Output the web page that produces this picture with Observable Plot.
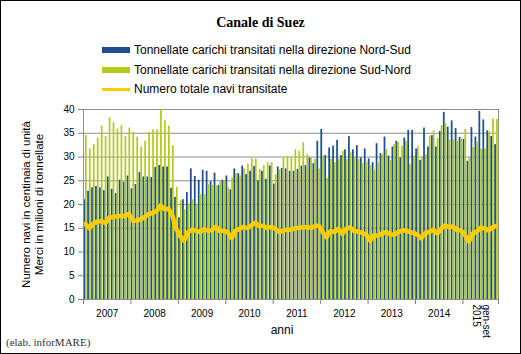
<!DOCTYPE html>
<html><head><meta charset="utf-8">
<script src="https://cdn.jsdelivr.net/npm/d3@7"></script>
<script src="https://cdn.jsdelivr.net/npm/@observablehq/plot@0.6"></script>
<style>
body{margin:0;background:#fff;}
#chart{position:relative;width:521px;height:354px;box-sizing:border-box;border:1px solid #000;background:#fff;overflow:hidden;font-family:"Liberation Sans",Arial,sans-serif;color:#000;}
#title{position:absolute;left:0;width:519px;top:14px;line-height:16px;text-align:center;font:bold 14px "Liberation Serif","Times New Roman",serif;}
.leg{position:absolute;left:101px;font-size:12px;height:14px;line-height:14px;display:flex;align-items:center;white-space:nowrap;}
.sw{width:28px;margin-right:4px;}
#caption{position:absolute;left:5px;top:335px;line-height:13px;font:11px "Liberation Serif","Times New Roman",serif;color:#333;}
#plot{position:absolute;left:0;top:99px;}
</style></head>
<body>
<div id="chart">
  <div id="title">Canale di Suez</div>
  <div class="leg" style="top:42px"><span class="sw" style="height:6px;background:#1d4f8f"></span>Tonnellate carichi transitati nella direzione Nord-Sud</div>
  <div class="leg" style="top:62px"><span class="sw" style="height:6px;background:#b4ca1b"></span>Tonnellate carichi transitati nella direzione Sud-Nord</div>
  <div class="leg" style="top:81px"><span class="sw" style="height:3px;background:#ffcc00"></span>Numero totale navi transitate</div>
  <div id="plot"></div>
  <div id="caption">(elab. inforMARE)</div>
</div>
<script>
// Year categories and number of months in each
const years = ["2007","2008","2009","2010","2011","2012","2013","2014","gen-set\n2015"];
const monthsPerYear = [12,12,12,12,12,12,12,12,9];
const yTicks = [0,5,10,15,20,25,30,35,40];

// Tonnellate carichi Nord-Sud (milioni)
const nordSud = [
  21.0,22.8,23.5,23.8,23.5,22.9,25.8,23.2,22.3,25.1,24.7,26.0,
  23.3,24.2,26.7,25.8,25.8,25.7,27.8,28.2,27.9,27.9,23.4,21.5,
  17.2,21.0,22.5,27.5,25.9,25.1,27.2,27.0,24.8,26.6,24.0,25.1,
  26.0,23.1,27.5,26.5,28.1,26.3,27.0,28.0,25.0,27.0,25.3,28.1,
  24.3,27.9,27.6,27.5,27.0,27.0,27.4,28.1,28.2,29.8,28.6,33.3,
  35.8,30.3,31.9,32.3,33.5,30.3,31.5,34.3,31.5,32.4,29.8,31.7,
  29.6,28.8,32.8,30.7,34.2,30.2,32.1,33.3,29.8,34.0,35.6,35.6,
  31.7,29.3,36.1,32.1,34.5,32.1,35.4,39.4,36.3,37.6,36.0,34.1,
  33.7,29.1,36.2,34.2,39.6,37.8,35.5,34.3,32.6
];
// Tonnellate carichi Sud-Nord (milioni)
const sudNord = [
  34.5,31.7,32.6,34.0,36.5,34.3,38.2,37.2,35.9,36.6,34.3,36.1,
  35.2,34.2,32.1,33.3,35.2,35.7,35.7,40.0,37.6,36.5,32.4,23.6,
  20.8,18.9,20.1,21.0,19.9,22.1,22.1,24.2,24.0,23.9,24.8,25.0,
  23.5,25.6,26.5,26.0,27.5,28.5,29.6,29.6,27.4,28.2,28.8,28.8,
  26.3,27.3,29.8,30.1,29.8,31.5,31.2,33.0,30.5,29.7,29.5,27.5,
  30.2,25.5,29.5,28.8,29.5,31.2,29.5,30.9,29.8,29.5,28.6,28.9,
  28.2,27.2,28.8,30.5,31.6,29.3,32.6,33.1,32.2,33.3,28.4,30.2,
  32.2,29.8,30.5,34.4,35.5,33.9,36.6,37.0,33.5,33.7,33.3,33.8,
  35.8,29.8,32.0,33.1,31.7,31.7,35.3,38.0,37.9
];
// Numero totale navi transitate (centinaia)
const navi = [
  15.9,15.0,16.0,16.4,16.5,16.1,17.2,17.4,17.5,17.6,17.6,18.0,
  16.6,16.6,16.9,17.4,18.0,18.2,18.6,19.8,19.0,19.1,17.6,14.8,
  13.3,12.4,14.2,14.7,14.5,14.2,14.8,14.5,14.6,15.3,14.4,14.5,
  14.1,12.9,14.5,14.9,15.3,15.0,15.6,16.2,15.4,15.5,15.0,15.3,
  14.9,14.2,14.5,14.7,14.7,15.0,15.1,15.2,15.2,15.1,15.4,15.6,
  14.2,13.1,14.4,14.2,14.9,13.8,14.9,15.2,14.4,14.3,14.0,13.7,
  12.4,13.5,13.4,13.9,14.2,13.8,13.6,14.1,14.5,14.6,14.2,14.0,
  13.6,12.9,14.0,14.2,14.7,13.9,14.9,15.6,15.2,15.4,14.6,14.6,
  13.6,12.2,13.9,14.3,15.1,15.0,14.5,15.2,15.5
];

const blue = "#1d4f8f", green = "#b4ca1b", yellow = "#ffcc00", gray = "#8f8f8f";

const data = nordSud.map((v, i) => ({i, ns: v, sn: sudNord[i], navi: navi[i]}));
const nMonths = data.length;
const bounds = [0];
monthsPerYear.forEach(m => bounds.push(bounds[bounds.length - 1] + m));
const yearInfo = years.map((y, k) => ({label: y, mid: (bounds[k] + bounds[k + 1]) / 2}));

const chart = Plot.plot({
  width: 519, height: 250,
  marginLeft: 82, marginRight: 22, marginTop: 9, marginBottom: 51,
  style: {fontFamily: "'Liberation Sans', Arial, sans-serif", fontSize: "10px", color: "#000", background: "#fff", overflow: "visible"},
  x: {domain: [0, nMonths]},
  y: {domain: [0, 40]},
  marks: [
    Plot.ruleY(yTicks, {stroke: gray, strokeWidth: 1, strokeOpacity: 1}),
    Plot.rectY(data, {x1: d => d.i + 0.06, x2: d => d.i + 0.5, y: "ns", fill: blue}),
    Plot.rectY(data, {x1: d => d.i + 0.5, x2: d => d.i + 0.94, y: "sn", fill: green}),
    Plot.line(data, {x: d => d.i + 0.5, y: "navi", stroke: yellow, strokeWidth: 4.5, strokeLinejoin: "round"}),
    Plot.ruleX([0, nMonths], {stroke: gray, strokeWidth: 1, strokeOpacity: 1}),
    Plot.ruleY([0], {stroke: gray, strokeWidth: 1}),
    Plot.axisY(yTicks, {tickSize: 5, tickPadding: 4, stroke: "#808080", label: null}),
    Plot.axisX(bounds, {tickSize: 5, tickFormat: () => "", stroke: "#808080", label: null}),
    Plot.text(yearInfo.filter(d => !d.label.includes("\n")), {x: "mid", text: "label", frameAnchor: "bottom", dy: 17}),
    Plot.text(yearInfo.filter(d => d.label.includes("\n")), {x: "mid", text: "label", frameAnchor: "bottom", dy: 5, rotate: 90, textAnchor: "start", lineAnchor: "middle", lineHeight: 1.0}),
    Plot.text(["anni"], {frameAnchor: "bottom", dy: 34, dx: -9, fontSize: 12}),
    Plot.text(["Numero navi in centinaia di unità\nMerci in milioni di tonnellate"], {frameAnchor: "left", textAnchor: "middle", rotate: -90, dx: -51, fontSize: 11.5, lineHeight: 1.1})
  ]
});
document.getElementById("plot").appendChild(chart);
</script>
</body></html>
